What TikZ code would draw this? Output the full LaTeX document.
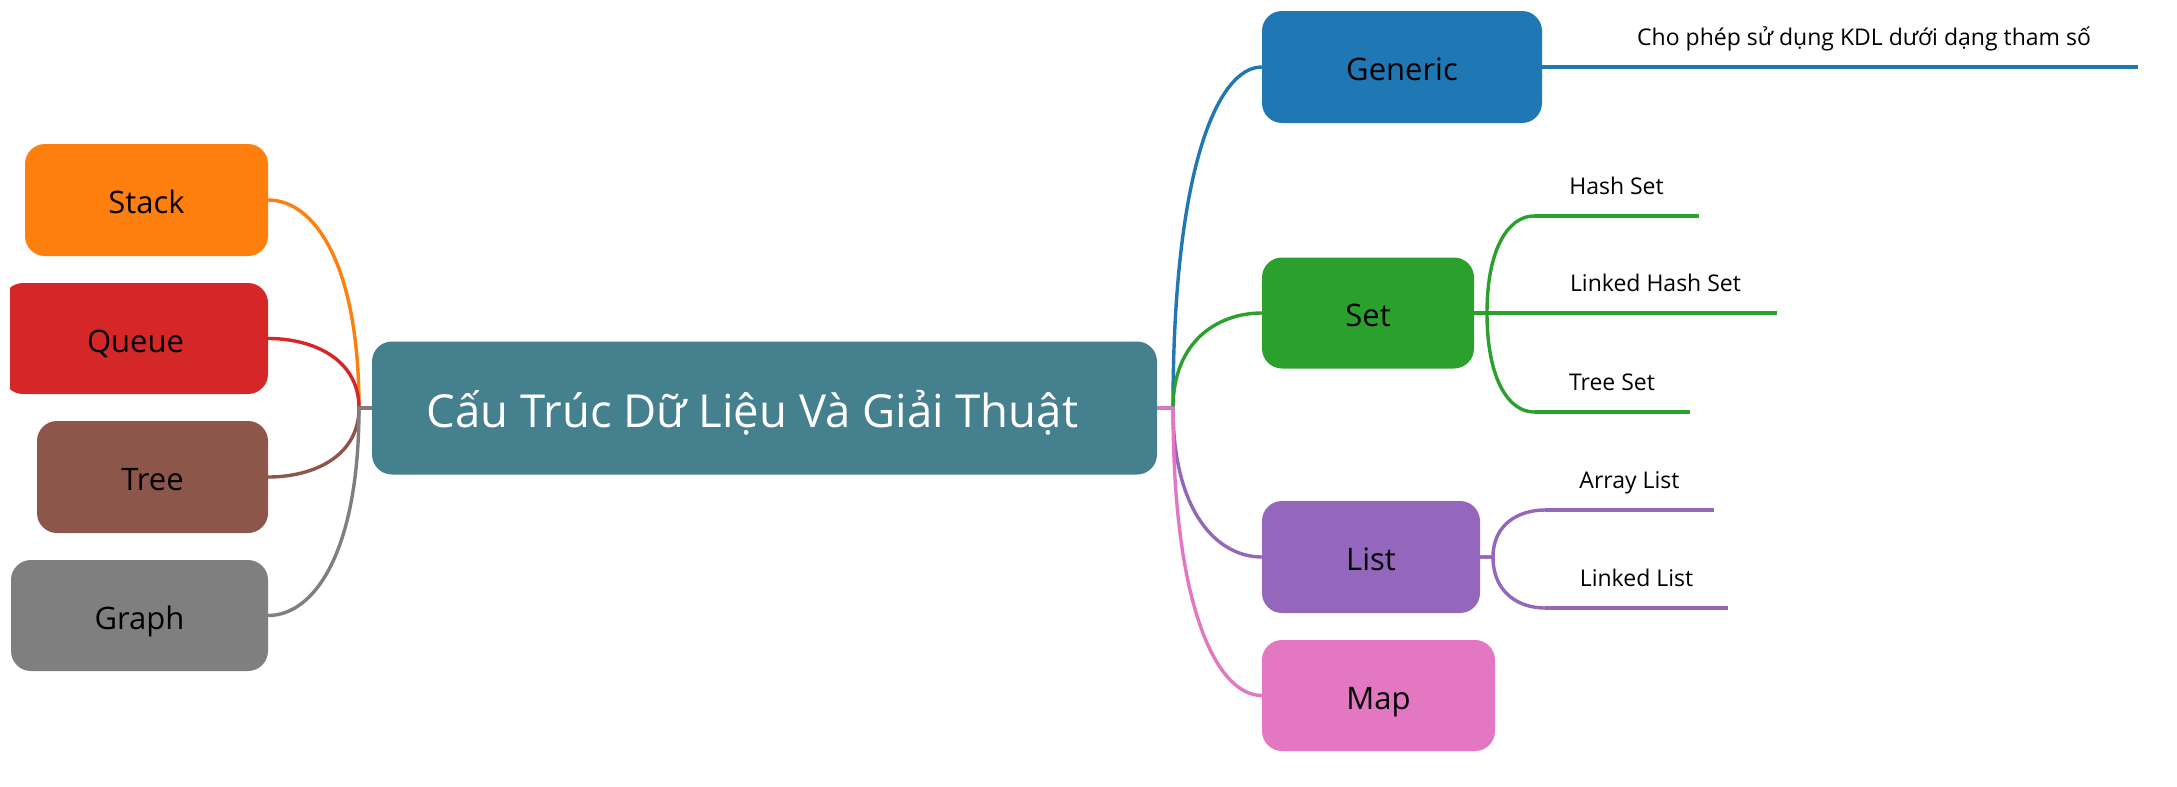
\documentclass[tikz,border=0pt]{standalone}
\usepackage{fontspec}
\setmainfont{Open Sans}
\usetikzlibrary{calc}
\definecolor{cBlue}{HTML}{1F77B4}
\definecolor{cOrange}{HTML}{FF7F0E}
\definecolor{cGreen}{HTML}{2CA02C}
\definecolor{cRed}{HTML}{D62728}
\definecolor{cPurple}{HTML}{9467BD}
\definecolor{cBrown}{HTML}{8C564B}
\definecolor{cPink}{HTML}{E377C2}
\definecolor{cGray}{HTML}{7F7F7F}
\definecolor{cTeal}{HTML}{44808D}
\begin{document}
\begin{tikzpicture}[x=1pt,y=-1pt,
  box/.style={rectangle, rounded corners=20pt, inner sep=0pt, minimum height=112pt,
    font=\fontsize{31}{37}\selectfont, text=black, text height=27pt, text depth=0pt},
  leaf/.style={rectangle, inner xsep=0pt, inner ysep=21pt, anchor=south,
    font=\fontsize{23}{28}\selectfont, text=black, text height=17pt, text depth=0pt},
  conn/.style={draw=#1, line width=3.4pt},
  leafline/.style={draw=#1, line width=4pt},
  mm/.style={to path={.. controls ($(\tikztostart|-\tikztotarget)!0.3!(\tikztostart)$)
      and ($(\tikztostart|-\tikztotarget)!0.5!(\tikztotarget)$) .. (\tikztotarget)}}]
\fill[white] (0,0) rectangle (2177,787);
\useasboundingbox (0,0) rectangle (2177,787);

% central
\node[rectangle, rounded corners=20pt, fill=cTeal, inner sep=0pt, minimum width=785pt,
  minimum height=133pt, text=white, font=\fontsize{45.5}{54}\selectfont,
  text height=39pt, text depth=0pt] (central) at (764.5,408)
  {Cấu Trúc Dữ Liệu Và Giải Thuật\hspace*{24pt}};

% left boxes
\node[box, fill=cOrange, minimum width=243pt] (stack) at (146.5,200) {Stack};
\begin{scope}
  \clip (10,0) rectangle (400,787);
  \node[box, fill=cRed, minimum width=265pt, minimum height=111pt] (queue) at (135.5,338.5) {Queue};
\end{scope}
\node[box, fill=cBrown, minimum width=231pt] (tree) at (152.5,477) {Tree};
\node[box, fill=cGray, minimum width=257pt, minimum height=111pt] (graph) at (139.5,615.5) {Graph};

% right boxes
\node[box, fill=cBlue, minimum width=280pt] (generic) at (1402,67) {Generic};
\node[box, fill=cGreen, minimum width=212pt, minimum height=111pt] (set) at (1368,313) {Set};
\node[box, fill=cPurple, minimum width=218pt] (list) at (1371,557) {List};
\node[box, fill=cPink, minimum width=233pt, minimum height=111pt] (map) at (1378.5,695.5) {Map};

% leaves
\node[leaf, minimum width=548pt] (gleaf) at (1864,67) {Cho phép sử dụng KDL dưới dạng tham số};
\node[leaf, minimum width=165pt] (hs) at (1616.5,216) {Hash Set};
\node[leaf, minimum width=243pt] (lhs) at (1655.5,313) {Linked Hash Set};
\node[leaf, minimum width=156pt] (ts) at (1612,412) {Tree Set};
\node[leaf, minimum width=169pt] (al) at (1629.5,510) {Array List};
\node[leaf, minimum width=183pt] (ll) at (1636.5,608) {Linked List};

% junctions
\coordinate (JL) at (359,408);
\coordinate (JR) at (1173,408);
\coordinate (setJ) at (1487,313);
\coordinate (listJ) at (1493,557);

% left connectors
\draw[conn=cOrange] (central.west) -- (JL) to[mm] (stack.east);
\draw[conn=cRed] (central.west) -- (JL) to[mm] (queue.east);
\draw[conn=cBrown] (central.west) -- (JL) to[mm] (tree.east);
\draw[conn=cGray] (central.west) -- (JL) to[mm] (graph.east);

% right connectors
\draw[conn=cBlue] (central.east) -- (JR) to[mm] (generic.west);
\draw[conn=cGreen] (central.east) -- (JR) to[mm] (set.west);
\draw[conn=cPurple] (central.east) -- (JR) to[mm] (list.west);
\draw[conn=cPink] (central.east) -- (JR) to[mm] (map.west);

% leaf connectors
\draw[leafline=cBlue] (generic.east) -- (gleaf.south west) -- (gleaf.south east);
\draw[conn=cGreen] (set.east) -- (setJ) to[mm] (hs.south west);
\draw[conn=cGreen] (set.east) -- (setJ) to[mm] (lhs.south west);
\draw[conn=cGreen] (set.east) -- (setJ) to[mm] (ts.south west);
\draw[leafline=cGreen] (hs.south west) -- (hs.south east);
\draw[leafline=cGreen] (lhs.south west) -- (lhs.south east);
\draw[leafline=cGreen] (ts.south west) -- (ts.south east);
\draw[conn=cPurple] (list.east) -- (listJ) to[mm] (al.south west);
\draw[conn=cPurple] (list.east) -- (listJ) to[mm] (ll.south west);
\draw[leafline=cPurple] (al.south west) -- (al.south east);
\draw[leafline=cPurple] (ll.south west) -- (ll.south east);
\end{tikzpicture}
\end{document}
